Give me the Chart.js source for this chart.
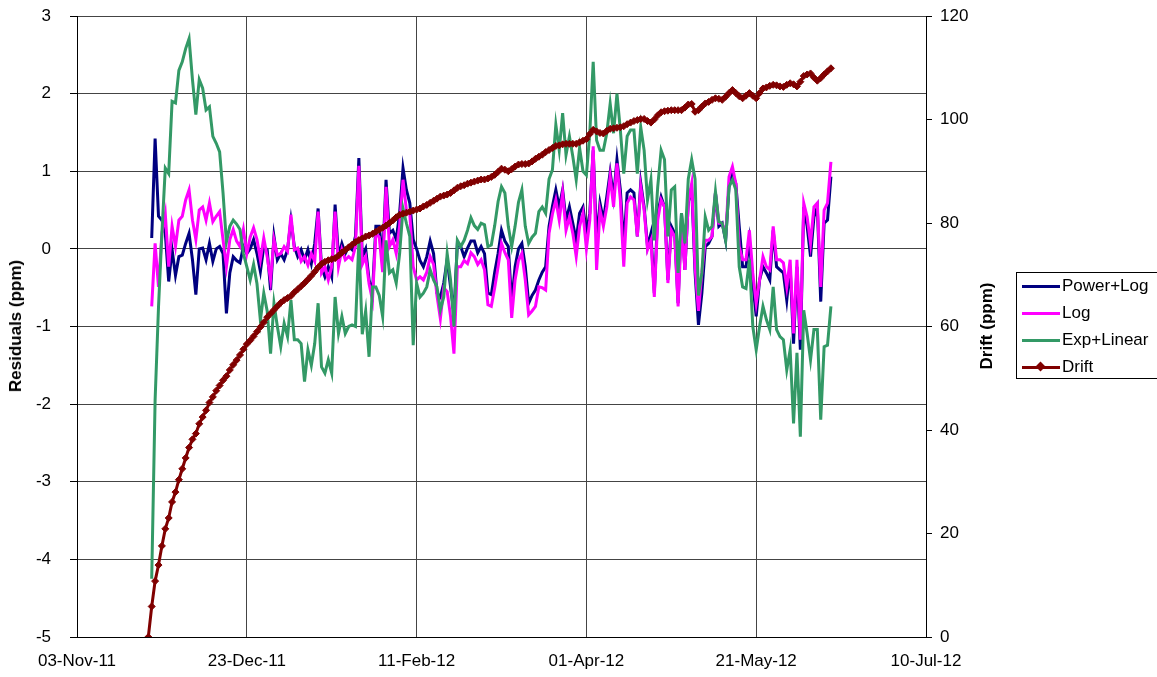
<!DOCTYPE html>
<html>
<head>
<meta charset="utf-8">
<title>Residuals and drift</title>
<script src="https://cdn.jsdelivr.net/npm/chart.js@4.4.1/dist/chart.umd.min.js"></script>
<style>
    html, body { margin: 0; padding: 0; background: #fff; overflow: hidden; }
    #wrap { position: relative; width: 1157px; height: 677px; font-family: 'Liberation Sans', Arial, sans-serif; color: #000; }
    #chart { position: absolute; left: 0; top: 0; }
    .axis-title { position: absolute; font-weight: bold; font-size: 17px; white-space: nowrap; transform: translate(-50%, -50%) rotate(-90deg); }
    #legend { position: absolute; left: 1016px; top: 272px; width: 160px; height: 105px; border: 1px solid #000; background: #fff; }
    .legend-item { position: absolute; left: 0; height: 20px; font-size: 17px; line-height: 20px; white-space: nowrap; }
    .legend-line { position: absolute; left: 5px; top: 8.5px; width: 38px; height: 3px; }
    .legend-mark { position: absolute; left: 20px; top: 6px; width: 7px; height: 7px; transform: rotate(45deg); }
    .legend-text { position: absolute; left: 45px; top: 0; }
</style>
</head>
<body>
<div id="wrap">
    <canvas id="chart" width="1157" height="677"></canvas>
    <div class="axis-title" style="left:16px; top:326px;">Residuals (ppm)</div>
    <div class="axis-title" style="left:987px; top:326px;">Drift (ppm)</div>
    <div id="legend"></div>
</div>
<script>
// x values are days counted from 03-Nov-11
const xTickLabels = ['03-Nov-11', '23-Dec-11', '11-Feb-12', '01-Apr-12', '21-May-12', '10-Jul-12'];

const dayNumbers = [
    21, 22, 23, 24, 25, 26, 27, 28, 29, 30,
    31, 32, 33, 34, 35, 36, 37, 38, 39, 40,
    41, 42, 43, 44, 45, 46, 47, 48, 49, 50,
    51, 52, 53, 54, 55, 56, 57, 58, 59, 60,
    61, 62, 63, 64, 65, 66, 67, 68, 69, 70,
    71, 72, 73, 74, 75, 76, 77, 78, 79, 80,
    81, 82, 83, 84, 85, 86, 87, 88, 89, 90,
    91, 92, 93, 94, 95, 96, 97, 98, 99, 100,
    101, 102, 103, 104, 105, 106, 107, 108, 109, 110,
    111, 112, 113, 114, 115, 116, 117, 118, 119, 120,
    121, 122, 123, 124, 125, 126, 127, 128, 129, 130,
    131, 132, 133, 134, 135, 136, 137, 138, 139, 140,
    141, 142, 143, 144, 145, 146, 147, 148, 149, 150,
    151, 152, 153, 154, 155, 156, 157, 158, 159, 160,
    161, 162, 163, 164, 165, 166, 167, 168, 169, 170,
    171, 172, 173, 174, 175, 176, 177, 178, 179, 180,
    181, 182, 183, 184, 185, 186, 187, 188, 189, 190,
    191, 192, 193, 194, 195, 196, 197, 198, 199, 200,
    201, 202, 203, 204, 205, 206, 207, 208, 209, 210,
    211, 212, 213, 214, 215, 216, 217, 218, 219, 220,
    221, 222
];

const powerLog = [
    null, 0.14, 1.42, 0.42, 0.37, 0.2, -0.42, -0.01, -0.34, -0.1,
    -0.08, 0.07, 0.2, -0.14, -0.59, 0.0, 0.01, -0.14, 0.07, -0.16,
    0.0, 0.03, -0.06, -0.83, -0.31, -0.1, -0.15, -0.18, 0.03, -0.06,
    0.0, 0.12, -0.06, -0.29, 0.03, -0.01, -0.53, 0.16, -0.14, -0.06,
    -0.14, -0.01, 0.37, 0.03, -0.1, -0.01, -0.14, -0.01, -0.19, 0.07,
    0.52, -0.23, -0.36, -0.23, -0.36, 0.57, -0.1, 0.07, -0.06, 0.03,
    -0.01, 0.16, 1.17, -0.1, 0.0, -0.4, -0.57, 0.29, 0.29, -0.14,
    0.89, 0.2, 0.24, 0.12, 0.46, 1.04, 0.76, 0.59, 0.12, 0.0,
    -0.15, -0.23, -0.1, 0.1, -0.06, -0.57, -0.62, -0.44, -0.14, -0.49,
    -0.83, 0.07, 0.03, -0.1, 0.01, 0.1, 0.1, -0.05, 0.03, -0.06,
    -0.57, -0.59, -0.3, -0.06, 0.24, 0.1, 0.03, -0.7, -0.23, 0.0,
    0.07, -0.23, -0.7, -0.6, -0.53, -0.4, -0.3, -0.23, 0.29, 0.55,
    0.76, 0.54, 0.76, 0.37, 0.54, 0.33, 0.11, 0.46, 0.54, 0.2,
    0.46, 1.27, 0.11, 0.59, 0.37, 0.67, 0.99, 0.67, 1.15, 0.76,
    0.03, 0.72, 0.76, 0.72, 0.16, 0.85, 0.54, 0.03, 0.2, -0.57,
    0.46, 0.67, 0.54, -0.4, 0.29, 0.2, -0.7, 0.46, -0.27, 0.6,
    0.8, -0.31, -0.98, -0.57, 0.03, 0.07, 0.16, 0.72, 0.29, 0.33,
    0.11, 0.8, 0.97, 0.84, 0.29, -0.23, -0.23, 0.11, -0.44, -0.87,
    -0.4, -0.23, -0.31, -0.4, 0.24, -0.23, -0.27, -0.31, -0.66, -0.23,
    -1.22, -0.23, -1.3, 0.54, 0.29, -0.1, 0.41, 0.54, -0.68, 0.33,
    0.37, 0.93
];

const logFit = [
    null, -0.74, 0.07, -0.49, 0.2, 0.45, -0.23, 0.29, 0.03, 0.37,
    0.42, 0.63, 0.76, 0.37, 0.12, 0.5, 0.54, 0.37, 0.59, 0.35,
    0.42, 0.48, 0.12, -0.23, 0.12, 0.25, 0.1, 0.03, 0.25, -0.06,
    0.15, 0.27, 0.12, -0.14, 0.14, -0.1, -0.4, 0.12, -0.08, -0.06,
    0.03, -0.03, 0.44, -0.01, 0.01, -0.16, -0.1, -0.21, -0.06, -0.16,
    0.48, -0.31, -0.23, -0.4, -0.23, 0.48, -0.23, -0.01, -0.14, -0.1,
    -0.14, 0.03, 1.07, -0.2, -0.1, -0.45, -0.66, 0.2, 0.15, -0.3,
    0.8, 0.03, 0.12, -0.06, 0.3, 0.89, 0.5, 0.45, -0.23, -0.4,
    -0.36, -0.4, -0.3, -0.1, -0.2, -0.6, -0.9, -0.5, -0.55, -0.87,
    -1.35, -0.23, -0.23, -0.15, -0.19, -0.05, -0.1, -0.2, -0.14, -0.27,
    -0.72, -0.74, -0.5, -0.23, 0.07, -0.05, -0.14, -0.89, -0.4, -0.15,
    -0.06, -0.4, -0.85, -0.8, -0.74, -0.49, -0.5, -0.53, 0.2, 0.45,
    0.63, 0.37, 0.72, 0.24, 0.41, 0.2, -0.1, 0.29, 0.46, 0.0,
    0.37, 1.32, -0.27, 0.5, 0.29, 0.54, 0.93, 0.54, 1.1, 0.63,
    -0.23, 0.59, 0.67, 0.63, 0.16, 0.8, 0.5, -0.01, 0.11, -0.62,
    0.37, 0.63, 0.54, -0.44, 0.24, 0.16, -0.74, 0.29, -0.27, 0.6,
    0.84, -0.23, -0.8, -0.31, 0.11, 0.11, 0.16, 0.72, 0.33, 0.33,
    0.16, 0.93, 1.06, 0.84, 0.03, -0.14, -0.14, 0.24, -0.31, -0.7,
    -0.4, -0.1, -0.23, -0.27, 0.29, -0.14, -0.14, -0.18, -0.49, -0.14,
    -1.09, -0.14, -1.17, 0.59, 0.41, 0.07, 0.54, 0.59, -0.49, 0.5,
    0.59, 1.12
];

const expLinear = [
    null, -4.25, -1.95, -0.75, 0.2, 1.04, 0.97, 1.9, 1.88, 2.3,
    2.41, 2.58, 2.71, 2.18, 1.73, 2.18, 2.07, 1.79, 1.83, 1.45,
    1.36, 1.25, 0.72, 0.09, 0.29, 0.37, 0.32, 0.25, -0.06, -0.23,
    -0.4, -0.2, -0.45, -0.92, -0.57, -0.8, -1.35, -0.7, -1.0, -1.26,
    -0.96, -1.13, -0.66, -1.17, -1.17, -1.22, -1.71, -1.3, -1.5, -1.22,
    -0.7, -1.52, -1.6, -1.43, -1.6, -0.62, -1.09, -0.87, -1.09, -1.0,
    -0.98, -1.0, 0.11, -1.1, -0.8, -1.39, -0.49, -0.49, -0.6, -0.87,
    0.11, -0.31, -0.27, -0.44, -0.06, 0.52, 0.33, 0.16, -1.24, -0.44,
    -0.62, -0.57, -0.49, -0.27, -0.4, -0.49, -0.79, -0.62, -0.06, -0.4,
    -1.0, 0.11, 0.03, 0.11, 0.24, 0.4, 0.3, 0.25, 0.33, 0.31,
    0.03, 0.05, 0.3, 0.61, 0.8, 0.72, 0.29, 0.03, 0.29, 0.6,
    0.76, 0.29, 0.07, 0.15, 0.2, 0.48, 0.54, 0.46, 0.9, 1.02,
    1.6, 1.27, 1.75, 1.21, 1.45, 1.19, 0.89, 1.3, 1.0, 0.95,
    1.49, 2.41, 1.4, 1.27, 1.27, 1.49, 1.87, 1.49, 2.0, 1.53,
    0.97, 1.45, 1.53, 1.53, 0.97, 1.57, 1.27, 0.63, 0.89, 0.11,
    0.8, 1.27, 1.15, 0.16, 0.76, 0.8, -0.31, 0.46, 0.07, 0.9,
    1.15, 0.9, -0.6, -0.31, 0.41, 0.24, 0.29, 0.74, 0.35, 0.33,
    0.11, 0.8, 0.89, 0.76, -0.23, -0.49, -0.51, -0.14, -1.0, -1.3,
    -1.0, -0.74, -0.91, -1.04, -0.49, -1.04, -1.13, -1.17, -1.56, -1.3,
    -2.25, -1.34, -2.42, -0.79, -1.09, -1.43, -1.04, -1.04, -2.2, -1.26,
    -1.24, -0.74
];

const drift = [
    0, 5.9, 10.8, 13.9, 17.6, 20.9, 23, 26.1, 28, 30.4,
    32.5, 34.6, 36.6, 38.2, 39.3, 41.2, 42.5, 43.8, 45.3, 46.4,
    47.6, 48.6, 49.6, 50.4, 51.6, 52.6, 53.5, 54.5, 55.6, 56.6,
    57.3, 58.1, 59, 59.9, 60.8, 61.8, 62.5, 63.2, 63.9, 64.6,
    65.1, 65.5, 65.9, 66.6, 67.2, 67.8, 68.4, 69.1, 69.8, 70.6,
    71.4, 72.1, 72.5, 72.8, 73, 73.2, 73.7, 74.3, 74.8, 75.3,
    75.8, 76.3, 76.7, 77, 77.4, 77.6, 77.9, 78.3, 78.7, 79.1,
    79.5, 80, 80.5, 81.1, 81.6, 81.8, 82, 82.2, 82.4, 82.6,
    82.8, 83.2, 83.5, 83.9, 84.3, 84.7, 85.1, 85.3, 85.5, 85.8,
    86.3, 86.8, 87.1, 87.3, 87.6, 87.8, 88, 88.2, 88.4, 88.4,
    88.6, 88.9, 89.3, 89.9, 90.5, 90.3, 90, 90.4, 90.9, 91.3,
    91.4, 91.4, 91.5, 91.9, 92.4, 92.8, 93.2, 93.7, 94.1, 94.5,
    94.9, 95, 95.2, 95.3, 95.3, 95.3, 95.3, 95.6, 95.9, 96.2,
    97.2, 98, 97.7, 97.4, 97.3, 97.8, 98.2, 98.3, 98.4, 98.5,
    98.7, 99.1, 99.4, 99.7, 99.9, 100.1, 100.1, 99.7, 99.4, 100,
    100.8, 101.4, 101.6, 101.7, 101.8, 101.8, 101.8, 101.8, 102.3, 102.9,
    103, 101.5, 101.8, 102.5, 103.1, 103.4, 103.8, 104.1, 104, 103.8,
    104.4, 105.1, 105.7, 105.1, 104.5, 104.1, 104.6, 105.1, 104.6, 104.1,
    105.1, 106, 106.2, 106.5, 106.7, 106.6, 106.4, 106.3, 106.7, 107,
    106.8, 106.4, 107.3, 108.4, 108.7, 108.9, 108.1, 107.5, 108, 108.7,
    109.3, 109.9
];

const seriesNames = ['Power+Log', 'Log', 'Exp+Linear', 'Drift'];
const seriesColors = ['#000080', '#ff00ff', '#339966', '#800000'];

function toPoints(values) {
    return dayNumbers.map((d, i) => ({ x: d, y: values[i] }));
}

const gridColor = '#444444';
Chart.defaults.font.family = "'Liberation Sans', Arial, sans-serif";
Chart.defaults.font.size = 17;
Chart.defaults.color = '#000';

function residualSet(idx, values) {
    return {
        label: seriesNames[idx],
        data: toPoints(values),
        yAxisID: 'y',
        borderColor: seriesColors[idx],
        backgroundColor: seriesColors[idx],
        borderWidth: 3,
        pointRadius: 0,
        tension: 0,
        order: 4 - idx
    };
}

const datasets = [
    residualSet(0, powerLog),
    residualSet(1, logFit),
    residualSet(2, expLinear),
    {
        label: seriesNames[3],
        data: toPoints(drift),
        yAxisID: 'y1',
        borderColor: seriesColors[3],
        backgroundColor: seriesColors[3],
        borderWidth: 3,
        pointStyle: 'rectRot',
        pointRadius: 3.5,
        pointBorderWidth: 1,
        tension: 0,
        order: 1
    }
];

// fixed axis box sizes; drop the label overhang so the plot starts at y=16
function fixVertical(width) {
    return s => {
        s.width = width;
        s.paddingTop = 0;
        s.paddingBottom = 0;
    };
}

new Chart(document.getElementById('chart'), {
    type: 'line',
    data: { datasets: datasets },
    options: {
        responsive: false,
        animation: false,
        layout: { padding: { left: 0, right: 157, top: 16, bottom: 0 } },
        plugins: {
            legend: { display: false },
            tooltip: { enabled: false }
        },
        scales: {
            x: {
                type: 'linear',
                min: 0,
                max: 250,
                ticks: {
                    stepSize: 50,
                    padding: 14,
                    maxRotation: 0,
                    callback: v => xTickLabels[Math.round(v / 50)]
                },
                grid: { color: gridColor, drawTicks: false },
                border: { color: '#000' },
                afterFit: s => { s.height = 40; s.paddingLeft = 0; s.paddingRight = 0; }
            },
            y: {
                position: 'left',
                min: -5,
                max: 3,
                ticks: { stepSize: 1, padding: 19 },
                grid: { color: gridColor, tickLength: 7, tickColor: '#000' },
                border: { color: '#000' },
                afterFit: fixVertical(77)
            },
            y1: {
                position: 'right',
                min: 0,
                max: 120,
                ticks: { stepSize: 20, padding: 8 },
                grid: { drawOnChartArea: false, tickLength: 6, tickColor: '#000' },
                border: { color: '#000' },
                afterFit: fixVertical(74)
            }
        }
    }
});

// legend box on the right
const legend = document.getElementById('legend');
const rowTops = [3, 30, 57, 84];
seriesNames.forEach((name, i) => {
    const item = document.createElement('div');
    item.className = 'legend-item';
    item.style.top = rowTops[i] + 'px';
    let html = `<div class="legend-line" style="background:${seriesColors[i]}"></div>`;
    if (name === 'Drift') {
        html += `<div class="legend-mark" style="background:${seriesColors[i]}"></div>`;
    }
    html += `<div class="legend-text">${name}</div>`;
    item.innerHTML = html;
    legend.appendChild(item);
});
</script>
</body>
</html>
